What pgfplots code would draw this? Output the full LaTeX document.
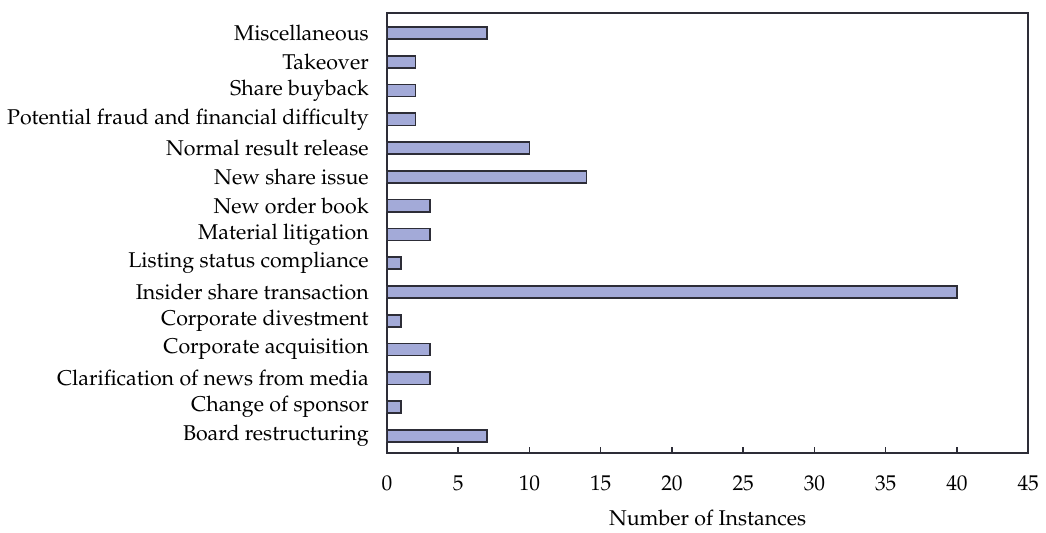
\documentclass[border=0pt]{standalone}
\usepackage[T1]{fontenc}
\usepackage{mathpazo}
\usepackage{pgfplots}
\pgfplotsset{compat=1.18}
\definecolor{barfill}{RGB}{163,170,216}
\definecolor{baredge}{RGB}{45,45,55}

\begin{document}
\begin{tikzpicture}
\begin{axis}[
    scale only axis,
    width=300pt,
    height=206pt,
    xbar,
    xmin=0, xmax=45,
    xtick={0,5,...,45},
    ymin=-0.6, ymax=14.7,
    ytick={0,...,14},
    yticklabels={Board restructuring, Change of sponsor, Clarification of news from media,
        Corporate acquisition, Corporate divestment, Insider share transaction,
        Listing status compliance, Material litigation, New order book, New share issue,
        Normal result release, Potential fraud and financial difficulty, Share buyback,
        Takeover, Miscellaneous},
    tick align=inside,
    xtick pos=bottom,
    major tick length=3pt,
    ytick style={draw=none},
    xticklabel style={yshift=-7pt},
    yticklabel style={xshift=-5pt},
    xlabel={Number of Instances},
    xlabel style={yshift=-2pt},
    axis line style={baredge, line width=0.8pt},
    tick style={baredge, line width=0.7pt},
    /pgf/number format/assume math mode=true,
    bar width=0.42,
]
\addplot[fill=barfill, draw=baredge, line width=0.8pt] coordinates {
    (7,0) (1,1) (3,2) (3,3) (1,4) (40,5) (1,6) (3,7) (3,8) (14,9)
    (10,10) (2,11) (2,12) (2,13) (7,14)
};
\end{axis}
% page margins as in the reference
\path (current axis.south west) ++(-181pt,-34pt);
\path (current axis.north east) ++(5.6pt,6pt);
\end{tikzpicture}
\end{document}
